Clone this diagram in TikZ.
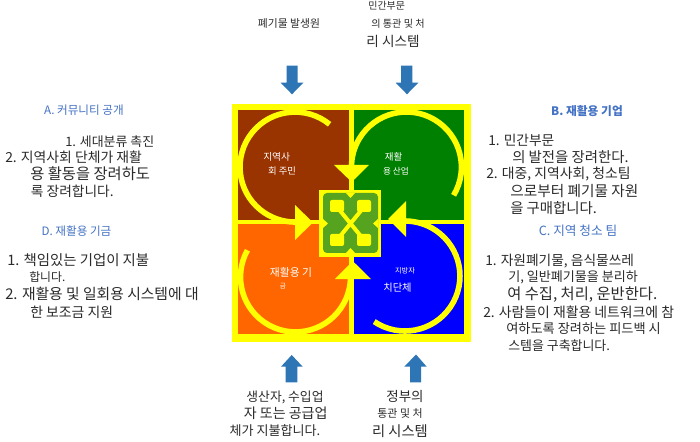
\documentclass[tikz,border=0pt]{standalone}
\usepackage{fontspec}
\setmainfont{Noto Sans CJK KR}
\definecolor{arrowblue}{HTML}{2E75B6}
\definecolor{headblue}{HTML}{4472C4}
\definecolor{bodygray}{HTML}{2B2B2B}
\definecolor{loopyellow}{HTML}{FFFF00}
\definecolor{qbrown}{HTML}{993300}
\definecolor{qgreen}{HTML}{008000}
\definecolor{qorange}{HTML}{FF6600}
\definecolor{qblue}{HTML}{0000FF}
\definecolor{symgreen}{HTML}{55A31E}
\tikzset{
 x=0.75pt,y=-0.75pt,
 fs/.style={font=\fontsize{#1}{#1}\selectfont},
 lbl/.style={inner sep=0pt,anchor=west,text=bodygray},
 head/.style={inner sep=0pt,text=headblue},
 ctr/.style={inner sep=0pt,text=bodygray},
 inq/.style={inner sep=0pt,text=white},
 ringpath/.style={draw=loopyellow,line width=4.2pt},
 tiphead/.style={fill=loopyellow,draw=none},
 blockarrow/.style={fill=arrowblue,draw=none},
}
\begin{document}
\begin{tikzpicture}
\useasboundingbox (0,0) rectangle (700,442);
\fill[white] (0,0) rectangle (700,442);
% board
\fill[loopyellow] (232,104) rectangle (471,342);
\fill[qbrown] (237.5,110) rectangle (348.5,220);
\fill[qgreen] (353.5,110) rectangle (463.5,220);
\fill[qorange] (237.5,224) rectangle (349,334);
\fill[qblue] (353.5,224) rectangle (463.5,334);
% loops
\draw[ringpath] (329.6,124.3) arc[start angle=51,end angle=270,radius=41.25pt] -- (300,222);
\fill[tiphead] (295,205) -- (313,222.5) -- (295,240) -- cycle;
\draw[ringpath] (453.6,195.3) arc[start angle=-31,end angle=180,radius=41.25pt] -- (351.5,170);
\fill[tiphead] (334,165) -- (351.7,182) -- (369,165) -- cycle;
\draw[ringpath] (374.2,321.6) arc[start angle=236,end angle=450,radius=41.25pt] -- (400,221);
\fill[tiphead] (406,201) -- (388,219) -- (406,237) -- cycle;
\draw[ringpath] (247.4,250.3) arc[start angle=151,end angle=360,radius=41.25pt] -- (350.5,275);
\fill[tiphead] (335,279) -- (352.7,261) -- (371,279) -- cycle;
% centre symbol
\fill[loopyellow] (319,190) rectangle (381,257);
\fill[symgreen,rounded corners=3pt] (323,193) rectangle (378,253);
\fill[loopyellow,rounded corners=1.5pt] (330,200) rectangle (344,212);
\fill[loopyellow,rounded corners=1.5pt] (357,200) rectangle (371,212);
\fill[loopyellow,rounded corners=1.5pt] (330,234) rectangle (344,246);
\fill[loopyellow,rounded corners=1.5pt] (357,234) rectangle (371,246);
\draw[loopyellow,line width=3pt] (337,207) -- (364,240) (364,207) -- (337,240);
\fill[loopyellow] (346,193) -- (355,193) -- (350.5,198) -- cycle;
\fill[loopyellow] (346,253) -- (355,253) -- (350.5,248) -- cycle;
\fill[loopyellow] (323,219) -- (323,228) -- (328,223.5) -- cycle;
\fill[loopyellow] (378,219) -- (378,228) -- (373,223.5) -- cycle;
% quadrant labels
\node[inq,fs=7.3] (qa1) at (276.7,156.7) {지역사};
\node[inq,fs=7] (qa2) at (282,171) {회 주민};
\node[inq,fs=7.1] (qb1) at (393.7,156.7) {재활};
\node[inq,fs=6.5] (qb2) at (396,171) {용 산업};
\node[inq,fs=8.1] (qd1) at (291,272.7) {재활용 기};
\node[inq,fs=5] (qd2) at (283,285.7) {금};
\node[inq,fs=5.4] (qc1) at (405,270.7) {지방자};
\node[inq,fs=7.7] (qc2) at (397.5,287.7) {치단체};
% top labels
\node[ctr,fs=8.1] (t1) at (289,23) {폐기물 발생원};
\node[ctr,fs=7.5] (t2) at (386.7,6) {민간부문};
\node[ctr,fs=7.6] (t3) at (398,23.5) {의 통관 및 처};
\node[ctr,fs=10.2] (t4) at (393,41) {리 시스템};
% bottom labels
\node[ctr,fs=9.6] (b1) at (285,397) {생산자, 수입업};
\node[ctr,fs=10.5] (b2) at (285.7,413) {자 또는 공급업};
\node[ctr,fs=9.8] (b3) at (275,431) {체가 지불합니다.};
\node[ctr,fs=10.1] (b4) at (405,396) {정부의};
\node[ctr,fs=8.2] (b5) at (400,413) {통관 및 처};
\node[ctr,fs=10.7] (b6) at (400,431) {리 시스템};
% block arrows
\fill[blockarrow] (286.7,65.7) -- (297.7,65.7) -- (297.7,82.7) -- (303.3,82.7) -- (292,94.3) -- (280.7,82.7) -- (286.7,82.7) -- cycle;
\fill[blockarrow] (401,65.7) -- (412.3,65.7) -- (412.3,82.7) -- (418.3,82.7) -- (407,94.3) -- (395.7,82.7) -- (401,82.7) -- cycle;
\fill[blockarrow] (285.7,382.3) -- (285.7,366.7) -- (281,366.7) -- (291.7,355) -- (302.7,366.7) -- (297.3,366.7) -- (297.3,382.3) -- cycle;
\fill[blockarrow] (410,382.3) -- (410,366.7) -- (404.3,366.7) -- (416,354.5) -- (426.7,366.7) -- (421,366.7) -- (421,382.3) -- cycle;
% left column
\node[head,fs=8.7] (ha) at (84,110.5) {A. 커뮤니티 공개};
\node[lbl,fs=9.7] (a1) at (65,141.7) {1. 세대분류 촉진};
\node[lbl,fs=10.4] (a2) at (5,157) {2. 지역사회 단체가 재활};
\node[lbl,fs=11.5] (a3) at (30,174) {용 활동을 장려하도};
\node[lbl,fs=10.3] (a4) at (30.7,191.7) {록 장려합니다.};
\node[head,fs=8.7] (hd) at (76.5,231) {D. 재활용 기금};
\node[lbl,fs=10.8] (d1) at (7,260) {1. 책임있는 기업이 지불};
\node[lbl,fs=8.9] (d2) at (29,277) {합니다.};
\node[lbl,fs=11.1] (d3) at (5,294) {2. 재활용 및 일회용 시스템에 대};
\node[lbl,fs=10.4] (d4) at (30,312) {한 보조금 지원};
% right column
\node[head,font=\fontsize{8.8}{8.8}\selectfont\bfseries] (hb) at (587,111) {B. 재활용 기업};
\node[lbl,fs=10.3] (b11) at (488,140.7) {1. 민간부문};
\node[lbl,fs=10.8] (b12) at (512,157) {의 발전을 장려한다.};
\node[lbl,fs=10.4] (b13) at (486,174) {2. 대중, 지역사회, 청소팀};
\node[lbl,fs=11] (b14) at (510,190.7) {으로부터 폐기물 자원};
\node[lbl,fs=10.8] (b15) at (510,208) {을 구매합니다.};
\node[head,fs=9.5] (hc) at (578,230.7) {C. 지역 청소 팀};
\node[lbl,fs=10.3] (c1) at (485,260.7) {1. 자원폐기물, 음식물쓰레};
\node[lbl,fs=9.8] (c2) at (508,277.7) {기, 일반폐기물을 분리하};
\node[lbl,fs=11.5] (c3) at (507,295) {여 수집, 처리, 운반한다.};
\node[lbl,fs=10.4] (c4) at (483,312.3) {2. 사람들이 재활용 네트워크에 참};
\node[lbl,fs=9.9] (c5) at (506,329) {여하도록 장려하는 피드백 시};
\node[lbl,fs=9.7] (c6) at (508,345.7) {스템을 구축합니다.};
\end{tikzpicture}
\end{document}
